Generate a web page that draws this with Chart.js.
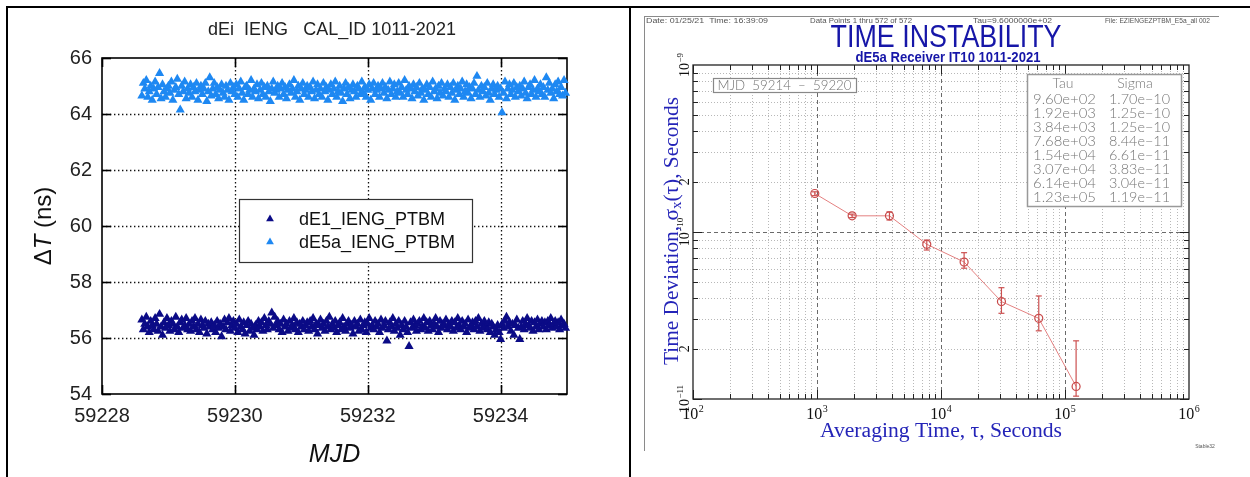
<!DOCTYPE html>
<html>
<head>
<meta charset="utf-8">
<script src="https://cdn.jsdelivr.net/npm/chart.js@4.4.1/dist/chart.umd.min.js"></script>
<style>
  body { margin: 0; background: #fff; width: 1250px; height: 477px; overflow: hidden; position: relative; }
  .wrap { position: absolute; }
  #calWrap { left: 0; top: 0; width: 628px; height: 477px; }
  #tdevWrap { left: 640px; top: 0; width: 610px; height: 477px; }
  .rule { position: absolute; background: #000; }
  #imgFrame { position: absolute; left: 644px; top: 16px; width: 574px; height: 434px; border-left: 1px solid #8a8a8a; border-top: 1px solid #8a8a8a; }
</style>
</head>
<body>
<div class="wrap" id="calWrap"><canvas id="calChart"></canvas></div>
<div class="wrap" id="tdevWrap"><canvas id="tdevChart"></canvas></div>
<div id="imgFrame"></div>
<div class="rule" style="left:6px;top:6px;width:1244px;height:2px"></div>
<div class="rule" style="left:6px;top:6px;width:2px;height:471px"></div>
<div class="rule" style="left:629px;top:6px;width:2px;height:471px"></div>
<script>
// ---------- left panel: dEi IENG calibration ----------
const mjdStart = 59228.6;
const mjdStep = 1920 / 86400;   // every 2nd 960 s sample
const dE1Values = [
  56.65, 56.3, 56.5, 56.75, 56.4, 56.2, 56.6, 56.45, 56.3, 56.7, 56.5, 56.25, 56.85, 56.4, 56.1, 56.55,
  56.35, 56.7, 56.45, 56.25, 56.6, 56.5, 56.3, 56.75, 56.4, 56.2, 56.55, 56.65, 56.35, 56.45, 56.7, 56.3,
  56.5, 56.25, 56.6, 56.4, 56.7, 56.3, 56.5, 56.2, 56.65, 56.45, 56.35, 56.6, 56.15, 56.5, 56.4, 56.55,
  56.3, 56.45, 56.2, 56.6, 56.35, 56.5, 56.05, 56.4, 56.65, 56.3, 56.55, 56.7, 56.25, 56.45, 56.6, 56.35,
  56.5, 56.2, 56.65, 56.4, 56.3, 56.55, 56.15, 56.45, 56.6, 56.25, 56.5, 56.35, 56.1, 56.45, 56.3, 56.6,
  56.4, 56.55, 56.25, 56.7, 56.45, 56.3, 56.6, 56.5, 56.9, 56.35, 56.75, 56.45, 56.6, 56.3, 56.5, 56.2,
  56.65, 56.4, 56.5, 56.25, 56.6, 56.35, 56.45, 56.7, 56.3, 56.55, 56.2, 56.5, 56.4, 56.6, 56.3, 56.45,
  56.55, 56.25, 56.6, 56.4, 56.7, 56.3, 56.5, 56.15, 56.45, 56.65, 56.35, 56.5, 56.25, 56.6, 56.4, 56.75,
  56.3, 56.5, 56.35, 56.6, 56.2, 56.45, 56.55, 56.3, 56.7, 56.4, 56.25, 56.5, 56.6, 56.35, 56.45, 56.15,
  56.6, 56.4, 56.5, 56.25, 56.65, 56.3, 56.45, 56.55, 56.2, 56.5, 56.7, 56.35, 56.45, 56.3, 56.6, 56.4,
  56.5, 56.2, 56.65, 56.35, 56.45, 56.6, 55.9, 56.3, 56.55, 56.4, 56.7, 56.25, 56.5, 56.35, 56.6, 56.1,
  56.45, 56.3, 56.6, 56.4, 56.2, 55.7, 56.55, 56.35, 56.65, 56.45, 56.25, 56.5, 56.6, 56.3, 56.4, 56.7,
  56.35, 56.55, 56.25, 56.6, 56.45, 56.3, 56.5, 56.7, 56.4, 56.2, 56.6, 56.35, 56.5, 56.45, 56.65, 56.3,
  56.5, 56.4, 56.6, 56.25, 56.55, 56.35, 56.7, 56.45, 56.3, 56.6, 56.4, 56.5, 56.2, 56.65, 56.35, 56.45,
  56.55, 56.3, 56.6, 56.4, 56.7, 56.25, 56.5, 56.35, 56.6, 56.45, 56.3, 56.55, 56.2, 56.5, 56.4, 56.1,
  56.3, 56.45, 56.2, 55.95, 56.5, 56.35, 56.6, 56.75, 56.4, 56.55, 56.25, 56.5, 56.1, 56.45, 56.65, 56.35,
  55.95, 56.4, 56.6, 56.3, 56.5, 56.7, 56.45, 56.35, 56.6, 56.25, 56.55, 56.4, 56.65, 56.3, 56.5, 56.6,
  56.4, 56.55, 56.3, 56.6, 56.45, 56.7, 56.35, 56.5, 56.6, 56.4, 56.55, 56.3, 56.65, 56.45, 56.5, 56.35
];
const dE5aValues = [
  64.65, 65.1, 64.9, 65.2, 64.6, 64.8, 65.0, 64.5, 64.9, 65.15, 64.7, 64.95, 65.45, 64.55, 65.05, 64.8,
  64.6, 64.9, 65.0, 64.75, 65.15, 64.5, 64.85, 64.95, 65.25, 64.7, 64.15, 65.0, 64.8, 65.15, 64.55, 64.9,
  64.75, 65.05, 64.6, 64.95, 64.8, 65.1, 64.5, 64.85, 65.0, 64.7, 64.9, 65.1, 64.45, 64.8, 65.3, 64.65,
  64.9, 65.1, 64.7, 64.95, 64.55, 64.85, 65.05, 64.75, 64.6, 65.0, 64.85, 64.5, 65.1, 64.8, 64.95, 64.7,
  65.05, 64.6, 64.9, 65.15, 64.75, 64.5, 64.95, 65.0, 64.7, 64.85, 65.2, 64.6, 64.9, 64.8, 65.05, 64.55,
  64.85, 65.1, 64.7, 64.95, 64.6, 65.0, 64.8, 64.45, 64.9, 65.15, 64.75, 64.85, 65.0, 64.6, 64.9, 65.1,
  64.7, 64.95, 64.55, 64.85, 65.05, 64.75, 64.9, 65.2, 64.6, 64.8, 65.0, 64.5, 64.9, 65.1, 64.7, 64.85,
  65.0, 64.6, 64.95, 64.8, 65.15, 64.55, 64.85, 65.05, 64.7, 64.9, 64.6, 65.1, 64.8, 64.95, 64.5, 64.85,
  65.05, 64.7, 64.9, 65.15, 64.6, 64.8, 65.0, 64.75, 64.45, 64.9, 65.1, 64.7, 64.95, 64.55, 64.85, 65.05,
  64.8, 64.6, 65.0, 64.9, 64.7, 65.15, 64.75, 64.95, 64.6, 64.85, 65.05, 64.5, 64.9, 65.1, 64.7, 64.85,
  65.0, 64.6, 64.9, 65.1, 64.75, 64.95, 64.55, 64.85, 65.15, 64.7, 64.9, 65.05, 64.6, 64.8, 65.1, 64.75,
  64.95, 64.6, 65.2, 64.85, 64.7, 65.0, 64.9, 64.55, 65.05, 64.8, 64.95, 64.65, 65.1, 64.75, 64.9, 64.5,
  64.85, 65.05, 64.7, 64.95, 64.6, 65.15, 64.8, 64.9, 64.55, 65.0, 64.75, 65.1, 64.65, 64.9, 64.8, 65.05,
  64.6, 64.95, 64.75, 65.1, 64.5, 64.85, 65.0, 64.7, 64.9, 65.15, 64.6, 64.8, 65.05, 64.75, 64.95, 64.55,
  64.9, 65.1, 64.7, 65.35, 64.85, 64.6, 65.0, 64.8, 64.95, 64.65, 65.1, 64.75, 64.5, 64.9, 65.05, 64.7,
  64.85, 65.0, 64.6, 64.9, 64.05, 64.75, 65.15, 64.55, 64.9, 65.05, 64.7, 64.85, 65.1, 64.6, 64.95, 64.8,
  65.0, 64.65, 64.9, 65.15, 64.75, 64.55, 64.95, 65.05, 64.7, 64.85, 65.2, 64.6, 64.9, 64.8, 65.05, 64.7,
  64.95, 64.6, 65.3, 64.85, 65.1, 64.75, 64.9, 64.55, 65.05, 64.8, 65.15, 64.7, 64.95, 64.65, 65.2, 64.75
];
const mjdTicks = [59228, 59230, 59232, 59234];
const dtTicks = [54, 56, 58, 60, 62, 64, 66];

// ---------- right panel: Stable32 time deviation ----------
const tauValues = [960, 1920, 3840, 7680, 15360, 30720, 61440, 122880];
const sigmaValues = [1.70e-10, 1.25e-10, 1.25e-10, 8.44e-11, 6.61e-11, 3.83e-11, 3.04e-11, 1.19e-11];
const sigmaLow = [1.65e-10, 1.22e-10, 1.18e-10, 7.8e-11, 6.07e-11, 3.26e-11, 2.56e-11, 1.04e-11];
const sigmaHigh = [1.74e-10, 1.28e-10, 1.32e-10, 8.95e-11, 7.52e-11, 4.64e-11, 4.14e-11, 2.23e-11];
const tauTickValues = [1e2, 1e3, 1e4, 1e5, 1e6];
const tauTickLabels = ['10^2', '10^3', '10^4', '10^5', '10^6'];
const sigmaTickValues = [1e-9, 2e-10, 1e-10, 2e-11, 1e-11];
const sigmaTickLabels = ['10^-9', '2', '10^-10', '2', '10^-11'];

const SANS = '"Liberation Sans", Arial, sans-serif';
const SERIF = '"Liberation Serif", "Times New Roman", serif';

function toPoints(vals) {
  return vals.map((v, i) => ({ x: mjdStart + i * mjdStep, y: v }));
}

function line(ctx, x1, y1, x2, y2) {
  ctx.beginPath(); ctx.moveTo(x1, y1); ctx.lineTo(x2, y2); ctx.stroke();
}

function triangle(ctx, x, y, r, color) {
  ctx.fillStyle = color;
  ctx.beginPath();
  ctx.moveTo(x, y - r);
  ctx.lineTo(x + 0.866 * r, y + 0.5 * r);
  ctx.lineTo(x - 0.866 * r, y + 0.5 * r);
  ctx.closePath();
  ctx.fill();
}

// text squeezed/stretched to a measured width
function fitText(ctx, text, x, y, width, align) {
  const w = ctx.measureText(text).width;
  const k = width / w;
  ctx.save();
  ctx.translate(align === 'center' ? x - width / 2 : x, y);
  ctx.scale(k, 1);
  ctx.textAlign = 'left';
  ctx.fillText(text, 0, 0);
  ctx.restore();
}

const calDecor = {
  id: 'calDecor',
  beforeDatasetsDraw(chart) {
    const { ctx, chartArea: a, scales: { x, y } } = chart;
    ctx.save();
    ctx.strokeStyle = '#111';
    ctx.lineWidth = 1.3;
    ctx.setLineDash([1.4, 2.6]);
    mjdTicks.forEach(v => {
      if (v <= x.min || v >= x.max) return;
      const px = Math.round(x.getPixelForValue(v)) + 0.5;
      line(ctx, px, a.top, px, a.bottom);
    });
    dtTicks.forEach(v => {
      if (v <= y.min || v >= y.max) return;
      const py = Math.round(y.getPixelForValue(v)) + 0.5;
      line(ctx, a.left, py, a.right, py);
    });
    ctx.setLineDash([]);
    ctx.strokeStyle = '#000';
    ctx.lineWidth = 1.6;
    mjdTicks.forEach(v => {
      const px = Math.round(x.getPixelForValue(v)) + 0.5;
      line(ctx, px, a.bottom, px, a.bottom - 9);
      line(ctx, px, a.top, px, a.top + 9);
    });
    dtTicks.forEach(v => {
      const py = Math.round(y.getPixelForValue(v)) + 0.5;
      line(ctx, a.left, py, a.left + 9, py);
      line(ctx, a.right, py, a.right - 9, py);
    });
    ctx.strokeRect(a.left, a.top, a.width, a.height);
    ctx.restore();
  },
  afterDraw(chart) {
    const { ctx, chartArea: a } = chart;
    ctx.save();
    ctx.fillStyle = '#222';
    ctx.textBaseline = 'middle';
    ctx.textAlign = 'center';
    ctx.font = '18px ' + SANS;
    ctx.fillText('dEi  IENG   CAL_ID 1011-2021', 332, 30);

    ctx.font = 'italic 25px ' + SANS;
    ctx.fillStyle = '#111';
    ctx.fillText('MJD', (a.left + a.right) / 2, 455);

    // ΔT (ns), T in italics
    ctx.translate(44, 226);
    ctx.rotate(-Math.PI / 2);
    const parts = [['Δ', '24px '], ['T', 'italic 24px '], [' (ns)', '24px ']];
    let total = 0;
    parts.forEach(p => { ctx.font = p[1] + SANS; total += ctx.measureText(p[0]).width; });
    let cx = -total / 2;
    ctx.textAlign = 'left';
    parts.forEach(p => {
      ctx.font = p[1] + SANS;
      ctx.fillText(p[0], cx, 0);
      cx += ctx.measureText(p[0]).width;
    });
    ctx.restore();

    // legend box
    ctx.save();
    ctx.fillStyle = '#fff';
    ctx.fillRect(239, 199, 233, 63);
    ctx.strokeStyle = '#333';
    ctx.lineWidth = 1.2;
    ctx.strokeRect(239.5, 199.5, 233, 63);
    ctx.textBaseline = 'middle';
    ctx.font = '18px ' + SANS;
    chart.data.datasets.forEach((ds, i) => {
      const yy = 219 + i * 23;
      triangle(ctx, 270, yy, 4.5, ds.backgroundColor);
      ctx.fillStyle = '#111';
      ctx.fillText(ds.label, 299, yy + 1);
    });
    ctx.restore();
  }
};

new Chart(document.getElementById('calChart'), {
  type: 'scatter',
  data: {
    datasets: [
      { label: 'dE1_IENG_PTBM', data: toPoints(dE1Values), pointStyle: 'triangle', pointRadius: 5.3,
        backgroundColor: '#0b0b86', borderWidth: 0, clip: false },
      { label: 'dE5a_IENG_PTBM', data: toPoints(dE5aValues), pointStyle: 'triangle', pointRadius: 5.3,
        backgroundColor: '#1e88f2', borderWidth: 0, clip: false }
    ]
  },
  options: {
    responsive: true,
    maintainAspectRatio: false,
    animation: false,
    layout: { padding: { left: 0, top: 58, right: 61, bottom: 0 } },
    plugins: { legend: { display: false }, tooltip: { enabled: false } },
    scales: {
      x: {
        type: 'linear', min: 59228, max: 59235,
        afterBuildTicks: s => { s.ticks = mjdTicks.map(v => ({ value: v })); },
        afterFit: s => { s.height = 83; },
        grid: { display: false, drawTicks: false },
        border: { display: false },
        ticks: { color: '#222', font: { family: SANS, size: 20 }, padding: 10, maxRotation: 0, callback: v => String(v) }
      },
      y: {
        min: 54, max: 66,
        afterBuildTicks: s => { s.ticks = dtTicks.map(v => ({ value: v })); },
        afterFit: s => { s.width = 102; },
        grid: { display: false, drawTicks: false },
        border: { display: false },
        ticks: { color: '#222', font: { family: SANS, size: 20 }, padding: 10, callback: v => String(v) }
      }
    }
  },
  plugins: [calDecor]
});

// ---------- right panel ----------
const OX = 640;   // page x of the right canvas

function sci(v) {
  const [m, e] = v.toExponential(2).split('e');
  const n = parseInt(e, 10);
  return m + 'e' + (n < 0 ? '−' : '+') + String(Math.abs(n)).padStart(2, '0');
}

function drawPow(ctx, label, x, y, size) {
  const [base, exp] = label.split('^');
  const big = size + 'px ' + SERIF;
  const small = Math.round(size * 0.64) + 'px ' + SERIF;
  ctx.font = big;
  const wb = ctx.measureText(base).width;
  let we = 0;
  const expText = exp ? exp.replace('-', '−') : '';
  if (exp) { ctx.font = small; we = ctx.measureText(expText).width + 0.5; }
  const x0 = x - (wb + we) / 2;
  ctx.textAlign = 'left';
  ctx.textBaseline = 'alphabetic';
  ctx.font = big;
  ctx.fillText(base, x0, y);
  if (exp) { ctx.font = small; ctx.fillText(expText, x0 + wb + 0.5, y - size * 0.42); }
}

const tdevDecor = {
  id: 'tdevDecor',
  beforeDatasetsDraw(chart) {
    const { ctx, chartArea: a, scales: { x, y } } = chart;
    ctx.save();
    ctx.lineWidth = 1;
    const xs = [], ys = [];
    for (let d = 2; d <= 5; d++) for (let m = 1; m <= 9; m++) xs.push([m * Math.pow(10, d), m === 1]);
    for (let d = -11; d <= -10; d++) for (let m = 1; m <= 9; m++) ys.push([m * Math.pow(10, d), m === 1]);
    xs.forEach(([v, major]) => {
      const px = Math.round(x.getPixelForValue(v)) + 0.5;
      if (px <= a.left + 1 || px >= a.right - 1) return;
      ctx.strokeStyle = major ? '#6a6a6a' : '#b8b8b8';
      ctx.setLineDash(major ? [4, 3] : [1, 2]);
      line(ctx, px, a.top, px, a.bottom);
    });
    ys.forEach(([v, major]) => {
      const py = Math.round(y.getPixelForValue(v)) + 0.5;
      if (py <= a.top + 1 || py >= a.bottom - 1) return;
      ctx.strokeStyle = major ? '#6a6a6a' : '#b8b8b8';
      ctx.setLineDash(major ? [4, 3] : [1, 2]);
      line(ctx, a.left, py, a.right, py);
    });
    ctx.setLineDash([]);
    ctx.strokeStyle = '#222';
    xs.forEach(([v, major]) => {
      const px = Math.round(x.getPixelForValue(v)) + 0.5;
      const len = major ? 9 : 5;
      line(ctx, px, a.bottom, px, a.bottom - len);
      line(ctx, px, a.top, px, a.top + len);
    });
    ys.forEach(([v, major]) => {
      const py = Math.round(y.getPixelForValue(v)) + 0.5;
      const len = major ? 9 : 5;
      line(ctx, a.left, py, a.left + len, py);
      line(ctx, a.right, py, a.right - len, py);
    });
    ctx.lineWidth = 1.3;
    ctx.strokeRect(a.left, a.top, a.width, a.height);
    ctx.restore();
  },
  afterDatasetsDraw(chart) {
    const { ctx, scales: { x, y } } = chart;
    const ds = chart.data.datasets[0];
    ctx.save();
    ctx.strokeStyle = '#cc5050';
    ctx.lineWidth = 1.2;
    tauValues.forEach((t, i) => {
      const px = x.getPixelForValue(t);
      const y1 = y.getPixelForValue(ds.errLow[i]);
      const y2 = y.getPixelForValue(ds.errHigh[i]);
      line(ctx, px, y1, px, y2);
      line(ctx, px - 3, y1, px + 3, y1);
      line(ctx, px - 3, y2, px + 3, y2);
    });
    ctx.restore();
  },
  afterDraw(chart) {
    const { ctx, chartArea: a, scales: { x, y } } = chart;
    ctx.save();
    // header line
    ctx.fillStyle = '#555';
    ctx.textBaseline = 'middle';
    ctx.font = '8px ' + SANS;
    fitText(ctx, 'Date: 01/25/21  Time: 16:39:09', 646 - OX, 21, 122, 'left');
    fitText(ctx, 'Data Points 1 thru 572 of 572', 810 - OX, 21, 102, 'left');
    fitText(ctx, 'Tau=9.6000000e+02', 973 - OX, 21, 79, 'left');
    fitText(ctx, 'File: EZIENGEZPTBM_E5a_all 002', 1105 - OX, 21, 105, 'left');

    // titles
    ctx.fillStyle = '#1616a8';
    ctx.font = '31px ' + SANS;
    fitText(ctx, 'TIME INSTABILITY', 946 - OX, 38, 231, 'center');
    ctx.font = 'bold 15px ' + SANS;
    fitText(ctx, 'dE5a Receiver IT10 1011-2021', 948 - OX, 58, 185, 'center');

    // axis titles
    ctx.fillStyle = '#2424b8';
    ctx.font = '20px ' + SERIF;
    fitText(ctx, 'Averaging Time, τ, Seconds', 941 - OX, 432, 242, 'center');

    ctx.save();
    ctx.translate(667 - OX, 231);
    ctx.rotate(-Math.PI / 2);
    const segs = [['Time Deviation, σ', 20, 0], ['x', 14, 4], ['(τ), Seconds', 20, 0]];
    let total = 0;
    segs.forEach(s => { ctx.font = s[1] + 'px ' + SERIF; total += ctx.measureText(s[0]).width; });
    const k = 268 / total;
    ctx.scale(k, 1);
    let cx = -total / 2;
    ctx.textAlign = 'left';
    segs.forEach(s => {
      ctx.font = s[1] + 'px ' + SERIF;
      ctx.fillText(s[0], cx, 6 + s[2]);
      cx += ctx.measureText(s[0]).width;
    });
    ctx.restore();

    // tick labels
    ctx.fillStyle = '#111';
    tauTickValues.forEach((v, i) => drawPow(ctx, tauTickLabels[i], x.getPixelForValue(v), 419, 16));
    sigmaTickValues.forEach((v, i) => {
      ctx.save();
      ctx.translate(a.left - 4, y.getPixelForValue(v));
      ctx.rotate(-Math.PI / 2);
      drawPow(ctx, sigmaTickLabels[i], 0, 0, 14);
      ctx.restore();
    });

    // MJD range box
    ctx.fillStyle = '#fff';
    ctx.fillRect(713 - OX, 78, 143, 14);
    ctx.strokeStyle = '#888';
    ctx.lineWidth = 1.2;
    ctx.strokeRect(713.5 - OX, 78.5, 143, 14);
    ctx.fillStyle = '#707070';
    ctx.font = '300 13px Lato, ' + SANS;
    ctx.textBaseline = 'middle';
    fitText(ctx, 'MJD  59214  –  59220', 784.5 - OX, 86, 134, 'center');

    // tau / sigma table
    ctx.fillStyle = '#fff';
    ctx.fillRect(1027 - OX, 74, 154, 132);
    ctx.strokeStyle = '#999';
    ctx.lineWidth = 1.5;
    ctx.strokeRect(1027.5 - OX, 74.5, 154, 132);
    ctx.fillStyle = '#777';
    ctx.font = '300 14px Lato, ' + SANS;
    ctx.textAlign = 'center';
    ctx.fillText('Tau', 1063 - OX, 83);
    ctx.fillText('Sigma', 1135 - OX, 83);
    ctx.textAlign = 'left';
    tauValues.forEach((t, i) => {
      const yy = 99 + i * 14;
      fitText(ctx, sci(t), 1033 - OX, yy, 63, 'left');
      fitText(ctx, sci(sigmaValues[i]), 1109 - OX, yy, 61, 'left');
    });

    ctx.fillStyle = '#555';
    ctx.font = '5px ' + SANS;
    ctx.textAlign = 'center';
    ctx.fillText('Stable32', 1205 - OX, 447);
    ctx.restore();
  }
};

new Chart(document.getElementById('tdevChart'), {
  type: 'line',
  data: {
    datasets: [{
      label: 'TDEV',
      data: tauValues.map((t, i) => ({ x: t, y: sigmaValues[i] })),
      errLow: sigmaLow,
      errHigh: sigmaHigh,
      borderColor: '#e48080',
      borderWidth: 1,
      tension: 0,
      pointStyle: 'circle',
      pointRadius: 4,
      pointBorderColor: '#c84848',
      pointBackgroundColor: 'rgba(0,0,0,0)',
      pointBorderWidth: 1.2,
      clip: false
    }]
  },
  options: {
    responsive: true,
    maintainAspectRatio: false,
    animation: false,
    layout: { padding: { left: 0, top: 65, right: 61, bottom: 0 } },
    plugins: { legend: { display: false }, tooltip: { enabled: false } },
    scales: {
      x: {
        type: 'logarithmic', min: 1e2, max: 1e6,
        afterFit: s => { s.height = 78; },
        grid: { display: false, drawTicks: false },
        border: { display: false },
        ticks: { display: false }
      },
      y: {
        type: 'logarithmic', min: 1e-11, max: 1e-9,
        afterFit: s => { s.width = 53; },
        grid: { display: false, drawTicks: false },
        border: { display: false },
        ticks: { display: false }
      }
    }
  },
  plugins: [tdevDecor]
});
</script>
</body>
</html>
